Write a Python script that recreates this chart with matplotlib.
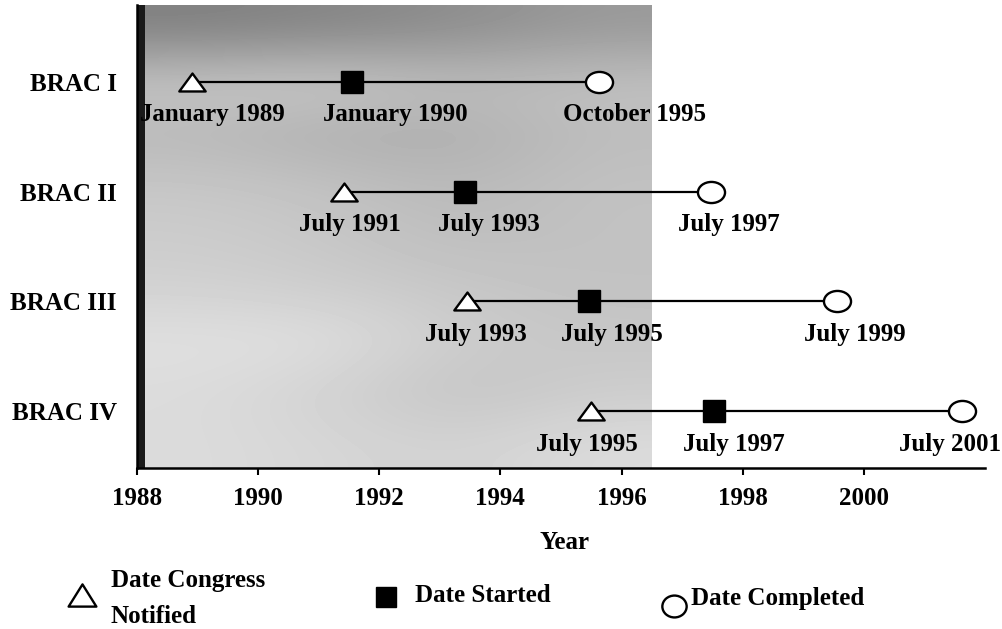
import matplotlib
matplotlib.use("Agg")
import matplotlib.pyplot as plt
from matplotlib.path import Path
import numpy as np

# ---- data ----
rounds = ["BRAC I", "BRAC II", "BRAC III", "BRAC IV"]
notified = [1988.9, 1991.42, 1993.45, 1995.49]
started = [1991.55, 1993.42, 1995.47, 1997.52]
completed = [1995.62, 1997.47, 1999.55, 2001.62]
notified_labels = ["January 1989", "July 1991", "July 1993", "July 1995"]
started_labels = ["January 1990", "July 1993", "July 1995", "July 1997"]
completed_labels = ["October 1995", "July 1997", "July 1999", "July 2001"]
xticks = [1988, 1990, 1992, 1994, 1996, 1998, 2000]
shaded_start, shaded_end = 1988, 1996.5

# ---- style ----
SERIF = ["Liberation Serif", "DejaVu Serif"]
plt.rcParams["font.family"] = SERIF
FS = 18

# label x-offsets (points) relative to marker
off_n = [15, 4, 6.5, -3]
off_s = [31, 17, 16, 14.5]
off_c = [26, 13, 13, -8.5]

def triangle(r):
    return Path([(0, r), (-1, -r), (1, -r), (0, r)],
                [Path.MOVETO, Path.LINETO, Path.LINETO, Path.CLOSEPOLY])

def ellipse(r):
    uc = Path.unit_circle()
    return Path(uc.vertices * np.array([1.0, r]), uc.codes)

tri = triangle(0.68)
tri_leg = triangle(0.8)
ell = ellipse(0.78)
ell_leg = ellipse(0.9)

fig = plt.figure(figsize=(10.03, 6.29), dpi=100)
ax = fig.add_axes([137 / 1003, 1 - 468 / 629, (985 - 137) / 1003, (468 - 5) / 629])
ax.set_xlim(1988, 2002)
ax.set_ylim(0.48, 4.70)

# stippled background approximated by a gray shade field
shade = np.array([
    [0.50, 0.52, 0.55, 0.60],
    [0.78, 0.80, 0.74, 0.76],
    [0.72, 0.68, 0.68, 0.74],
    [0.78, 0.76, 0.72, 0.76],
    [0.80, 0.78, 0.74, 0.76],
    [0.82, 0.80, 0.78, 0.76],
    [0.88, 0.88, 0.80, 0.78],
    [0.86, 0.82, 0.76, 0.80],
    [0.86, 0.84, 0.82, 0.86],
])
ax.imshow(shade, cmap="gray", vmin=0, vmax=1, extent=(shaded_start, shaded_end, 0.48, 4.70),
          aspect="auto", interpolation="bicubic", zorder=0)
ax.axvspan(shaded_start, shaded_start + 0.13, color="#1a1a1a", lw=0, zorder=0.5)

ys = [4, 3, 2, 1]
for i, y in enumerate(ys):
    ax.plot([notified[i], completed[i]], [y, y], color="black", lw=1.6, zorder=2)
    ax.plot(notified[i], y, marker=tri, ms=19, mfc="white", mec="black", mew=1.7, zorder=3)
    ax.plot(started[i], y, marker="s", ms=15.5, mfc="black", mec="black", mew=1.0, zorder=3)
    ax.plot(completed[i], y, marker=ell, ms=19.5, mfc="white", mec="black", mew=1.7, zorder=3)
    for xv, lab, dx in ((notified[i], notified_labels[i], off_n[i]),
                        (started[i], started_labels[i], off_s[i]),
                        (completed[i], completed_labels[i], off_c[i])):
        ax.annotate(lab, xy=(xv, y), xytext=(dx, -28.5), textcoords="offset points",
                    ha="center", va="baseline", fontsize=FS, fontweight="bold",
                    annotation_clip=False, zorder=4)

ax.set_yticks(ys)
ax.set_yticklabels(rounds, fontsize=FS, fontweight="bold")
ax.tick_params(axis="y", length=0, pad=14.5)
ax.set_xticks(xticks)
ax.set_xticklabels([str(t) for t in xticks], fontsize=FS, fontweight="bold")
ax.tick_params(axis="x", direction="out", length=5, width=1.5, pad=9)
for s in ("top", "right"):
    ax.spines[s].set_visible(False)
for s in ("left", "bottom"):
    ax.spines[s].set_linewidth(1.8)
    ax.spines[s].set_zorder(5)

fig.text(565 / 1003, 1 - 549 / 629, "Year", ha="center", va="baseline",
         fontsize=FS, fontweight="bold")

# legend drawn in pixel coordinates
lax = fig.add_axes([0, 0, 1, 1])
lax.set_xlim(0, 1003)
lax.set_ylim(629, 0)
lax.axis("off")
lax.patch.set_alpha(0)
lax.plot(82, 595, marker=tri_leg, ms=20, mfc="white", mec="black", mew=1.7)
lax.text(111, 587, "Date Congress", fontsize=FS, fontweight="bold", ha="left", va="baseline")
lax.text(111, 623, "Notified", fontsize=FS, fontweight="bold", ha="left", va="baseline")
lax.plot(386, 597, marker="s", ms=15, mfc="black", mec="black", mew=1.0)
lax.text(415, 602, "Date Started", fontsize=FS, fontweight="bold", ha="left", va="baseline")
lax.plot(674, 606, marker=ell_leg, ms=17.5, mfc="white", mec="black", mew=1.7)
lax.text(691, 605, "Date Completed", fontsize=FS, fontweight="bold", ha="left", va="baseline")

fig.savefig("out.png", dpi=100)
